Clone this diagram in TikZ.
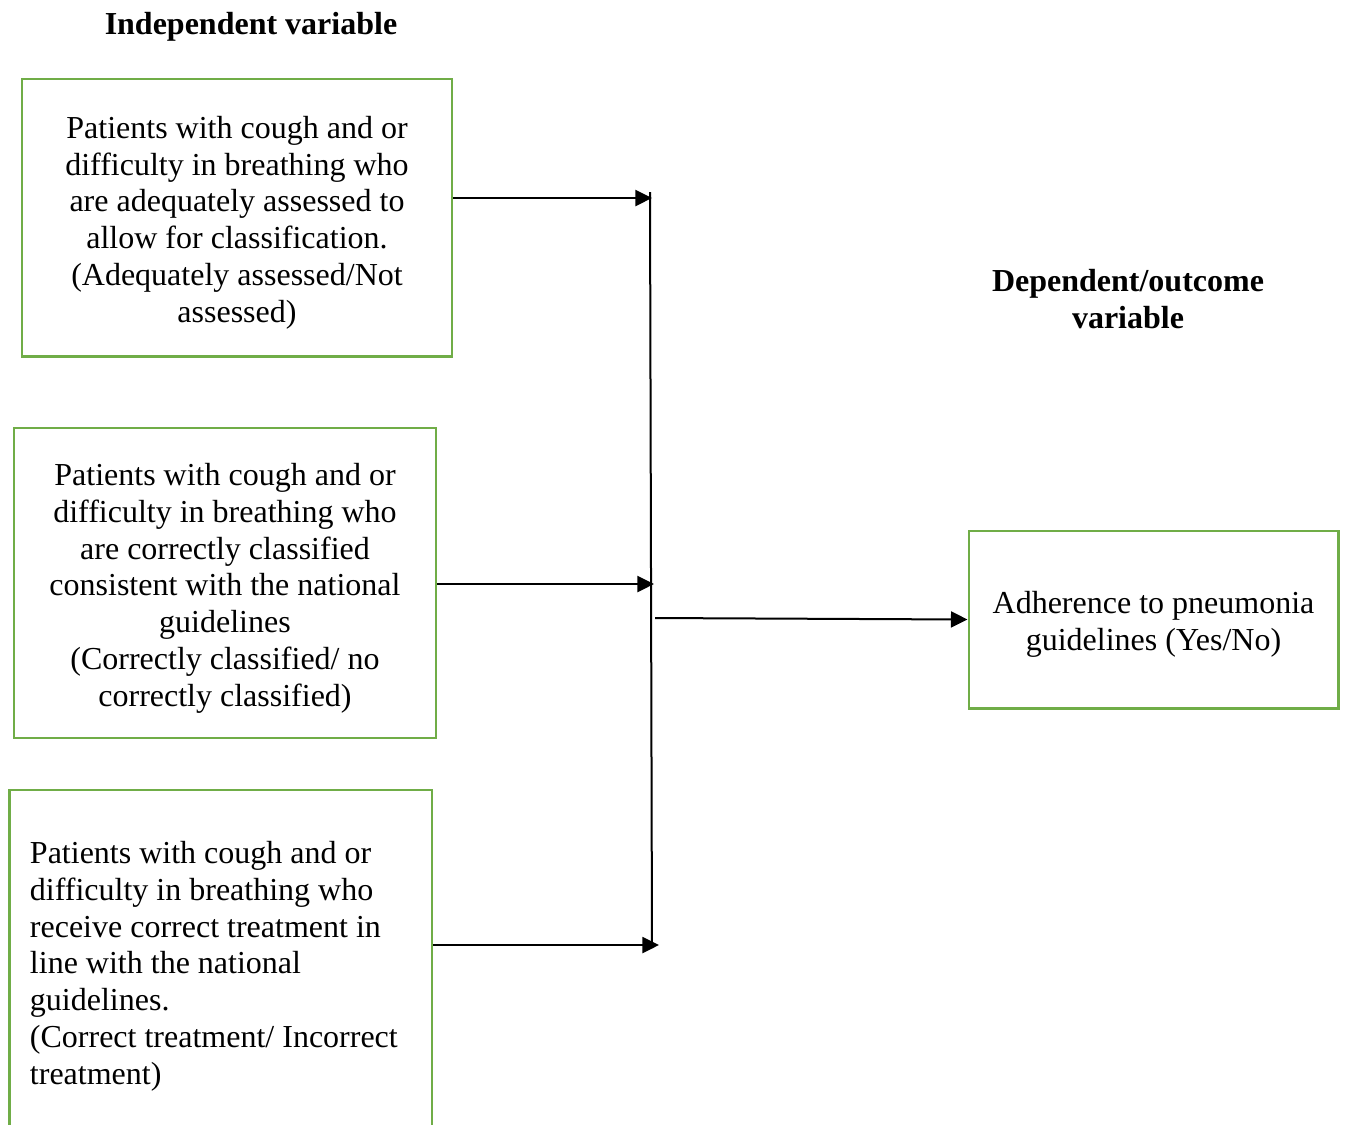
\documentclass[tikz,border=0pt]{standalone}
\usepackage{fontspec}
\setmainfont{Liberation Serif}
\usepackage{tikz}
\usepackage{xcolor}
\usetikzlibrary{arrows.meta}
\definecolor{boxgreen}{HTML}{70AD47}
\newcommand{\toppad}{\rule{0pt}{12.2pt}}
\begin{document}
\begin{tikzpicture}[x=0.375pt, y=-0.375pt,
    every node/.style={font=\fontsize{12}{13.8}\selectfont},
    ivbox/.style={rectangle, draw=boxgreen, line width=1.1pt, inner sep=0pt},
    head/.style={align=center, font=\fontsize{12}{13.8}\selectfont\bfseries},
    link/.style={line width=0.75pt},
    tip/.style={link, -{Triangle[length=6.2pt,width=6pt]}}]
    \clip (0,0) rectangle (1347,1124);
    \node[head] (ivhead) at (251,27) {Independent variable};
    \node[head] (dvhead) at (1128,299) {Dependent/outcome\\variable};

    \node[ivbox, minimum width=161.25pt, minimum height=103.9pt, align=center] (assess) at (237,217.5) {\toppad Patients with cough and or\\difficulty in breathing who\\are adequately assessed to\\allow for classification.\\(Adequately assessed/Not\\assessed)};
    \node[ivbox, minimum width=158.25pt, minimum height=116.25pt, align=center] (classify) at (225,583) {\toppad Patients with cough and or\\difficulty in breathing who\\are correctly classified\\consistent with the national\\guidelines\\(Correctly classified/ no\\correctly classified)};
    \node[ivbox, minimum width=158.6pt, minimum height=128.25pt, text width=142.9pt, align=flush left] (treat) at (220.5,961) {\toppad Patients with cough and or\\difficulty in breathing who\\receive correct treatment in\\line with the national\\guidelines.\\(Correct treatment/ Incorrect\\treatment)};
    \node[ivbox, minimum width=138.4pt, minimum height=66.4pt, align=center] (adhere) at (1153.5,619.5) {\toppad Adherence to pneumonia\\guidelines (Yes/No)};

    \coordinate (bustop) at (650,192);
    \coordinate (busbot) at (652,948);
    \coordinate (j1) at (652,198);
    \coordinate (j2) at (654,584);
    \coordinate (j3) at (659,945);
    \coordinate (out) at (655,618);

    \draw[link] (bustop) -- (busbot);
    \draw[tip] (assess.east |- j1) -- (j1);
    \draw[tip] (classify.east |- j2) -- (j2);
    \draw[tip] (treat.east |- j3) -- (j3);
    \draw[tip] (out) -- (adhere.west);
\end{tikzpicture}
\end{document}
